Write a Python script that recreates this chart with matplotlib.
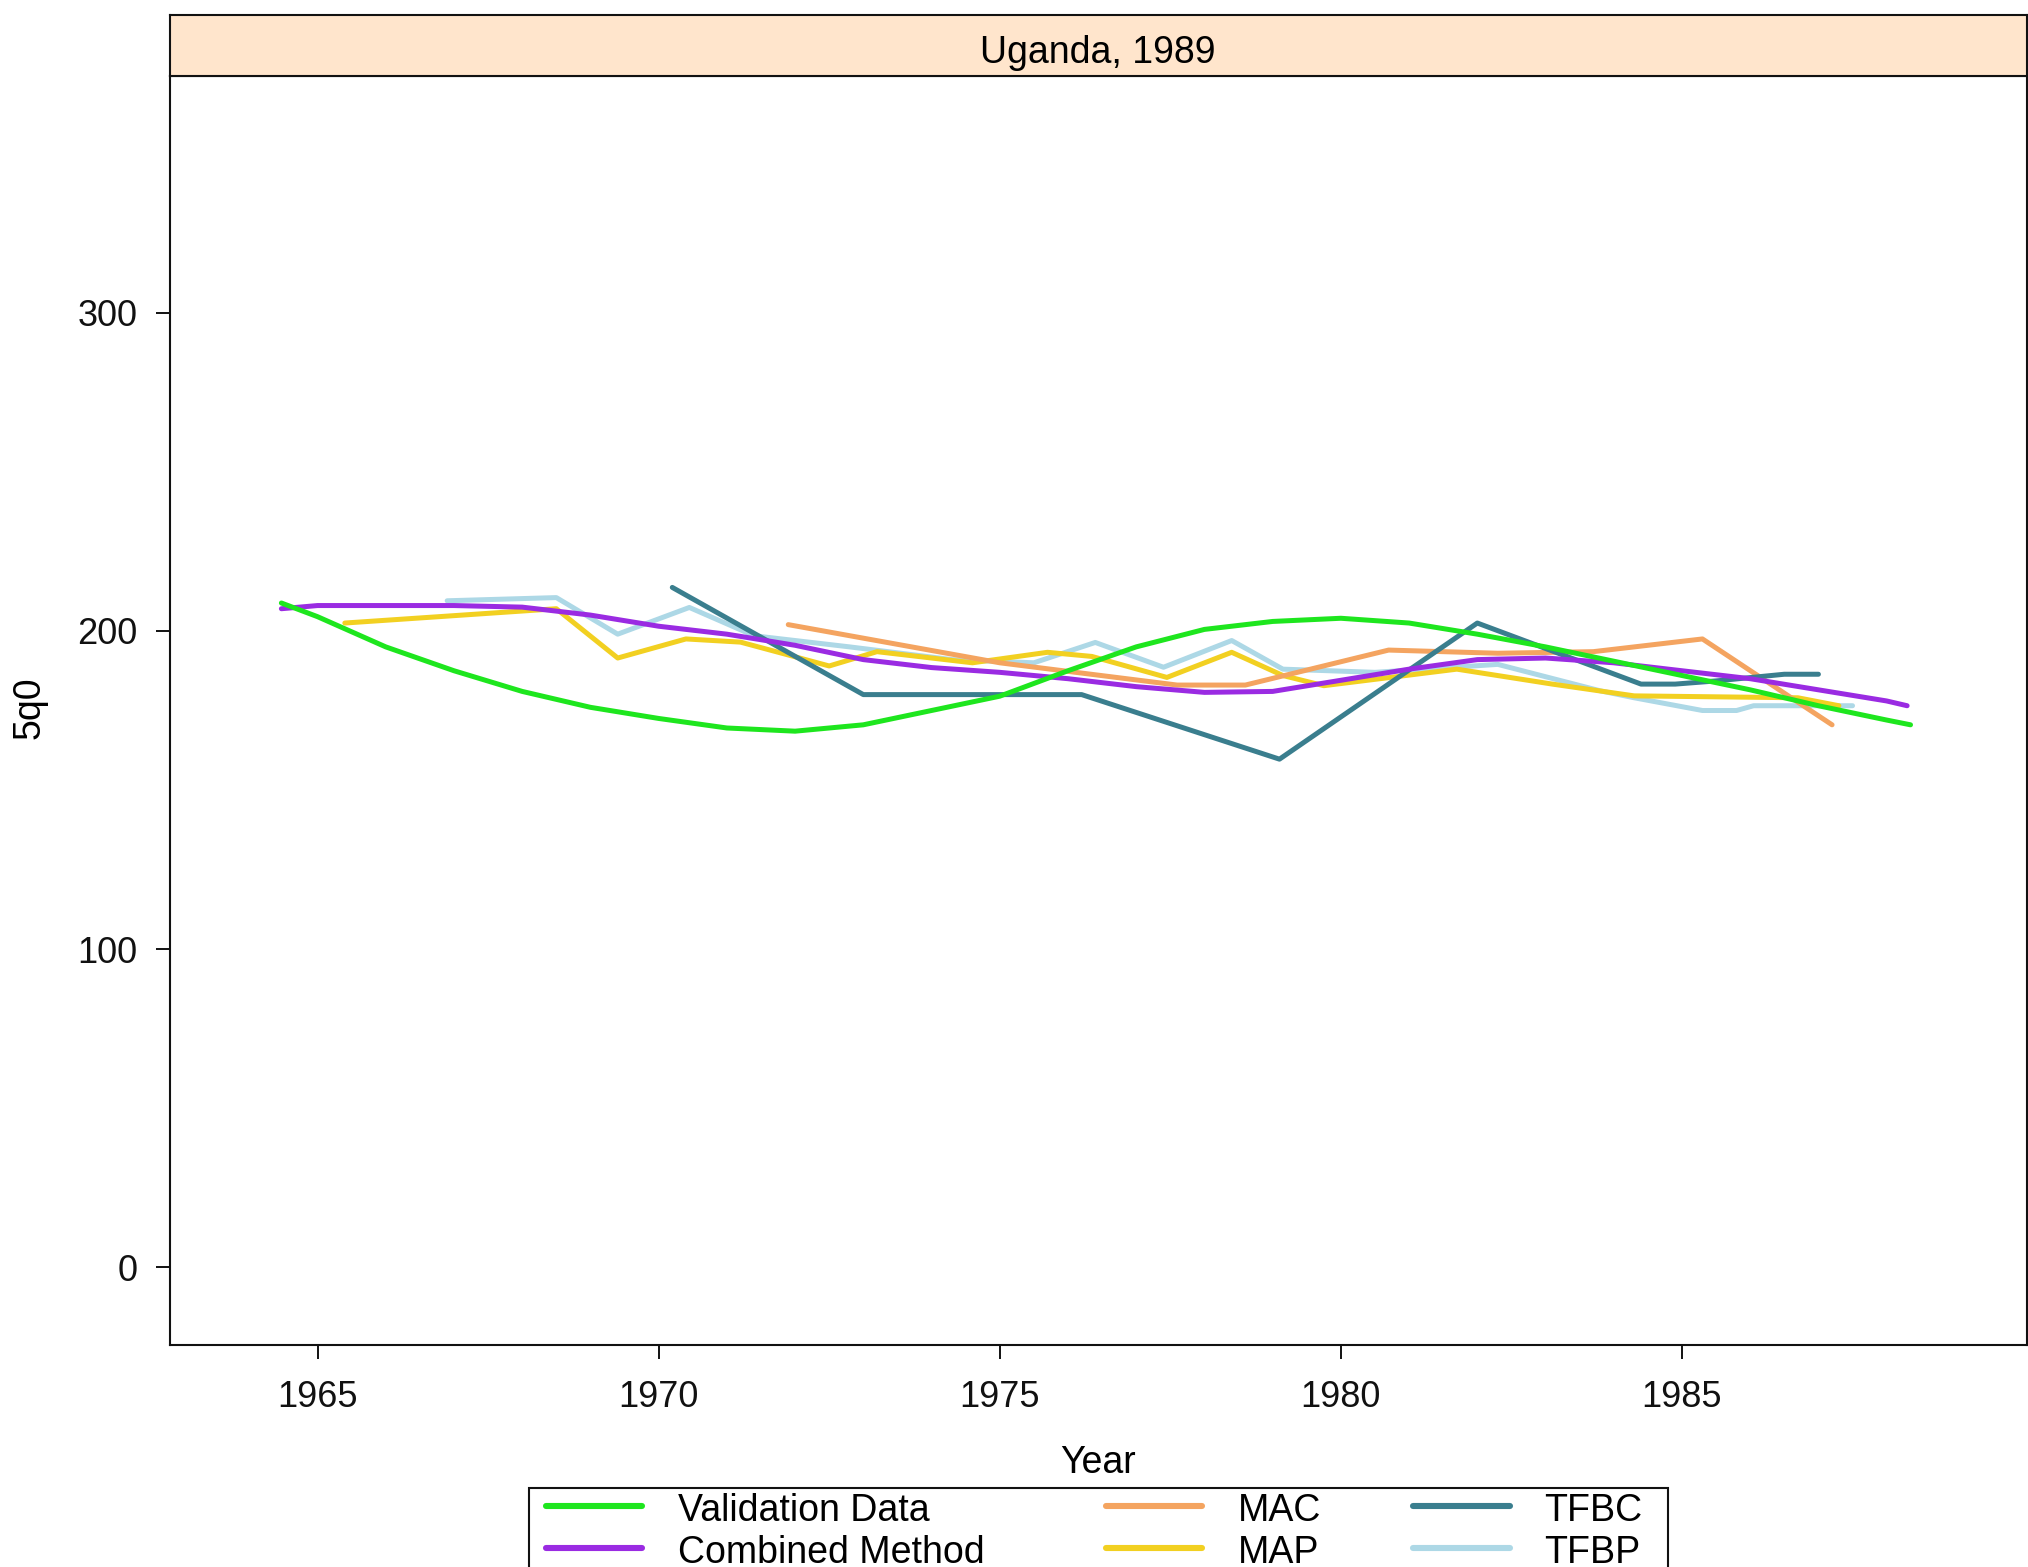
import matplotlib
matplotlib.use("Agg")
import matplotlib.pyplot as plt
from matplotlib.lines import Line2D
from matplotlib.patches import Rectangle

plt.rcParams['font.family'] = ['Liberation Sans', 'DejaVu Sans']

# ---- data -------------------------------------------------------------
panel_title = "Uganda, 1989"

val_years = [1964.47, 1965, 1966, 1967, 1968, 1969, 1970, 1971, 1972, 1973,
             1974, 1975, 1976, 1977, 1978, 1979, 1980, 1981, 1982, 1983,
             1984, 1985, 1986, 1987, 1988, 1988.35]
val_5q0 = [208.8, 204.5, 195.0, 187.5, 181.0, 176.0, 172.5, 169.5, 168.5, 170.5,
           175.0, 179.5, 187.5, 195.0, 200.5, 203.0, 204.0, 202.5, 199.0, 195.0,
           190.5, 186.0, 181.5, 176.5, 172.0, 170.5]

comb_years = [1964.47, 1965, 1966, 1967, 1968, 1969, 1970, 1971, 1972, 1973,
              1974, 1975, 1976, 1977, 1978, 1979, 1980, 1981, 1982, 1983,
              1984, 1985, 1986, 1987, 1988, 1988.3]
comb_5q0 = [207.0, 208.0, 208.0, 208.0, 207.5, 205.0, 201.5, 199.0, 195.5, 191.0,
            188.5, 187.0, 185.0, 182.5, 180.7, 181.0, 184.5, 188.0, 191.0, 191.5,
            190.0, 187.5, 185.0, 181.5, 178.0, 176.5]

mac_years = [1971.9, 1975.0, 1977.6, 1978.6, 1980.7, 1982.3, 1983.7, 1985.3, 1987.2]
mac_5q0 = [202.0, 190.0, 183.0, 183.0, 194.0, 193.0, 193.5, 197.5, 170.5]

map_years = [1965.4, 1968.5, 1969.4, 1970.4, 1971.2, 1972.5, 1973.2, 1974.6, 1975.7,
             1976.35, 1977.45, 1978.4, 1979.15, 1979.75, 1981.7, 1983.1, 1984.3,
             1986.7, 1987.3]
map_5q0 = [202.5, 207.0, 191.5, 197.5, 196.5, 189.0, 193.5, 190.0, 193.3,
           192.0, 185.4, 193.3, 186.0, 182.8, 188.0, 183.3, 179.6,
           179.0, 176.5]

tfbc_years = [1970.2, 1973.0, 1976.2, 1979.1, 1982.0, 1984.4, 1984.9, 1985.5,
              1986.5, 1987.0]
tfbc_5q0 = [213.7, 180.0, 180.0, 159.7, 202.5, 183.3, 183.3, 184.3, 186.4, 186.4]

tfbp_years = [1966.9, 1968.5, 1969.4, 1970.45, 1971.4, 1972.8, 1974.3, 1975.5,
              1976.4, 1977.4, 1978.4, 1979.15, 1980.5, 1982.3, 1983.8, 1984.3,
              1985.3, 1985.8, 1986.05, 1987.5]
tfbp_5q0 = [209.5, 210.5, 199.0, 207.4, 198.5, 195.0, 191.0, 190.0,
            196.4, 188.6, 197.0, 188.0, 187.0, 189.5, 181.2, 179.0,
            175.0, 175.0, 176.5, 176.5]

series_names = ["Validation Data", "Combined Method", "MAC", "MAP", "TFBC", "TFBP"]
series_colors = ["#1EE61E", "#9A2BE2", "#F4A460", "#F2D021", "#3A7E8E", "#ADD8E6"]

x_ticks = [1965, 1970, 1975, 1980, 1985]
y_ticks = [0, 100, 200, 300]

# ---- figure -------------------------------------------------------------
W, H = 2028, 1567
fig = plt.figure(figsize=(W / 100, H / 100), dpi=100)

left_px, right_px = 169.5, 2026.5
top_px, bottom_px = 76, 1345
strip_top_px = 15

ax = fig.add_axes([left_px / W, 1 - bottom_px / H,
                   (right_px - left_px) / W, (bottom_px - top_px) / H])

data = [(val_years, val_5q0), (comb_years, comb_5q0), (mac_years, mac_5q0),
        (map_years, map_5q0), (tfbc_years, tfbc_5q0), (tfbp_years, tfbp_5q0)]
zorders = [7, 6, 4, 3, 5, 2]
for (xs, ys), name, col, z in zip(data, series_names, series_colors, zorders):
    ax.plot(xs, ys, color=col, lw=3.6, label=name, zorder=z,
            solid_capstyle='round', solid_joinstyle='round')

ax.set_xlim(1962.83, 1990.05)
ax.set_ylim(-24.5, 374.5)
ax.set_xticks(x_ticks)
ax.set_yticks(y_ticks)
ax.tick_params(axis='both', direction='out', length=10, width=1.4,
               labelsize=26, pad=15, colors='#111111')
ax.tick_params(axis='y', pad=13)
for sp in ax.spines.values():
    sp.set_linewidth(1.5)
    sp.set_color('#111111')

ax.set_xlabel("Year", fontsize=27)
ax.xaxis.set_label_coords(0.5, -(1463 - bottom_px) / (bottom_px - top_px))
ax.xaxis.label.set_va('center')
ax.set_ylabel("5q0", fontsize=27)
ax.yaxis.set_label_coords((30 - left_px) / (right_px - left_px), 0.502)
ax.yaxis.label.set_va('center')

# strip with panel title
sax = fig.add_axes([left_px / W, 1 - top_px / H,
                    (right_px - left_px) / W, (top_px - strip_top_px) / H])
sax.set_facecolor('#FFE5CC')
sax.set_xticks([])
sax.set_yticks([])
for sp in sax.spines.values():
    sp.set_linewidth(1.5)
    sp.set_color('#111111')
sax.text(0.5, 0.38, panel_title, ha='center', va='center', fontsize=27,
         transform=sax.transAxes)

# legend drawn in figure pixels
def fx(px):
    return px / W


def fy(py):
    return 1 - py / H


box = Rectangle((fx(529), fy(1600)), fx(1668.5) - fx(529), fy(1487.5) - fy(1600),
                transform=fig.transFigure, fill=False, lw=1.5, ec='#111111')
fig.add_artist(box)

col_line_x = [(546, 642), (1106, 1202), (1413, 1510)]
col_text_x = [678, 1238, 1544]
row_y = [1506, 1548]
for i, (name, col) in enumerate(zip(series_names, series_colors)):
    c, r = divmod(i, 2)
    x0, x1 = col_line_x[c]
    fig.add_artist(Line2D([fx(x0), fx(x1)], [fy(row_y[r]), fy(row_y[r])],
                          transform=fig.transFigure, color=col, lw=4.4,
                          solid_capstyle='round'))
    fig.text(fx(col_text_x[c]), fy(row_y[r] + 5), name, ha='left', va='center',
             fontsize=27)

fig.savefig("out.png", dpi=100, facecolor='white')
